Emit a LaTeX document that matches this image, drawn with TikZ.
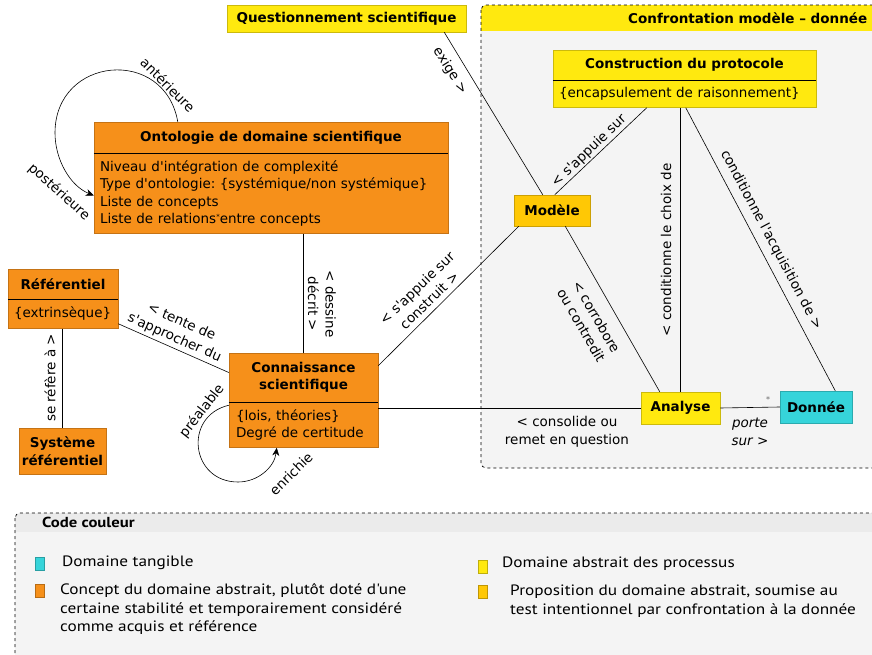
\documentclass[tikz,border=0pt]{standalone}
\usepackage{fontspec}
\setmainfont{DejaVu Sans}[Ligatures=TeXOff]
\newfontfamily\legendfont{PT Sans}[FakeStretch=1.15, Ligatures=TeXOff]
\usetikzlibrary{positioning,arrows.meta}

\definecolor{concept}{HTML}{F6901A}
\definecolor{process}{HTML}{FFE90F}
\definecolor{proposal}{HTML}{FFC805}
\definecolor{tangible}{HTML}{36D4DA}
\definecolor{groupbg}{HTML}{F4F4F4}
\definecolor{legendhead}{HTML}{EBEBEB}

\frenchspacing
\begin{document}
\begin{tikzpicture}[
  x=1pt, y=-1pt,
  font=\fontsize{13.5}{17.5}\selectfont,
  title/.style={rectangle, draw=#1!80!black, fill=#1, line width=0.5pt, inner sep=0pt, align=center, font=\fontsize{13.5}{17.5}\selectfont\bfseries},
  sepline/.style={line width=0.8pt},
  link/.style={line width=0.6pt},
  loopy/.style={line width=0.6pt, -{Stealth[length=8pt, width=7pt, inset=2.5pt]}},
  lbl/.style={inner sep=1pt, align=center},
  groupedge/.style={dashed, line width=0.7pt, rounded corners=5pt},
  legsq/.style={rectangle, draw=#1!75!black, fill=#1, line width=0.4pt, minimum width=9pt, minimum height=13pt, inner sep=0pt},
  legtxt/.style={anchor=west, align=left, inner sep=0pt, font=\legendfont\fontsize{15}{18.5}\selectfont}
]
  \useasboundingbox (0,0) rectangle (872,655);
  \clip (0,0) rectangle (872,655);

  % groupe confrontation
  \begin{scope}
    \clip[rounded corners=5pt] (481,5) rectangle (895,468);
    \fill[groupbg] (481,5) rectangle (895,468);
    \fill[process] (481,5) rectangle (895,31);
  \end{scope}
  \draw[groupedge] (481,5) rectangle (895,468);
  \node[anchor=west, inner sep=0pt, font=\fontsize{13.5}{17.5}\selectfont\bfseries] (conf-title) at (628,18) {Confrontation modèle – donnée};

  % legende
  \begin{scope}
    \clip[rounded corners=5pt] (15,513) rectangle (895,690);
    \fill[groupbg] (15,513) rectangle (895,690);
    \fill[legendhead] (15,513) rectangle (895,532);
  \end{scope}
  \draw[groupedge] (15,513) rectangle (895,690);
  \node[legtxt, font=\legendfont\fontsize{14.5}{17}\selectfont\bfseries] (leg-title) at (42,522) {Code couleur};

  % classes
  \node[title=process, minimum width=239pt, minimum height=27pt] (quest) at (346.5,18.5) {Questionnement scientifique};

  \node[title=process, minimum width=263pt, minimum height=30pt] (proto-h) at (684.5,65) {Construction du protocole};
  \node[rectangle, draw=process!80!black, fill=process, line width=0.5pt, inner xsep=6pt, inner ysep=0pt, minimum height=27pt, text width=251pt, align=left, below=0pt of proto-h] (proto-b) {\{encapsulement de raisonnement\}};

  \node[title=proposal, minimum width=76pt, minimum height=31pt] (modele) at (552,210.5) {Modèle};

  \node[title=concept, minimum width=354pt, minimum height=31pt] (onto-h) at (271,137.5) {Ontologie de domaine scientifique};
  \node[rectangle, draw=concept!80!black, fill=concept, line width=0.5pt, inner xsep=6pt, inner ysep=0pt, minimum height=80pt, text width=342pt, align=left, below=0pt of onto-h] (onto-b) {Niveau d'intégration de complexité\\Type d'ontologie: \{systémique/non systémique\}\\Liste de concepts\\Liste de relations{\raisebox{4pt}{\fontsize{7}{7}\selectfont *}}entre concepts};

  \node[title=concept, minimum width=110pt, minimum height=30pt] (ref-h) at (63,284) {Référentiel};
  \node[rectangle, draw=concept!80!black, fill=concept, line width=0.5pt, inner xsep=6pt, inner ysep=0pt, minimum height=29pt, text width=98pt, align=left, below=0pt of ref-h] (ref-b) {\{extrinsèque\}};

  \node[title=concept, minimum width=87pt, minimum height=46pt] (sys) at (62.5,451) {Système\\référentiel};

  \node[title=concept, minimum width=149pt, minimum height=49pt] (cons-h) at (303.5,377.5) {Connaissance\\scientifique};
  \node[rectangle, draw=concept!80!black, fill=concept, line width=0.5pt, inner xsep=7pt, inner ysep=0pt, minimum height=45pt, text width=135pt, align=left, below=0pt of cons-h] (cons-b) {\{lois, théories\}\\Degré de certitude};

  \node[title=process, minimum width=79pt, minimum height=32pt] (analyse) at (680.5,408) {Analyse};
  \node[title=tangible, minimum width=72pt, minimum height=32pt] (donnee) at (816,407) {Donnée};

  % separateurs
  \draw[sepline] (proto-b.north west) -- (proto-b.north east);
  \draw[sepline] (onto-b.north west) -- (onto-b.north east);
  \draw[sepline] (ref-b.north west) -- (ref-b.north east);
  \draw[sepline] (cons-b.north west) -- (cons-b.north east);

  % associations
  \draw[link] ([xshift=-22pt]quest.south east) -- ([xshift=29pt]modele.north west);
  \draw[link] ([xshift=94pt]proto-b.south west) -- ([xshift=41pt]modele.north west);
  \draw[link] (analyse.north |- proto-b.south) -- (analyse.north);
  \draw[link] ([xshift=133pt]proto-b.south west) -- ([xshift=-17pt]donnee.north east);
  \draw[link] ([xshift=-25pt]modele.south east) -- ([xshift=19pt]analyse.north west);
  \draw[link] (analyse.west) -- (analyse.west -| cons-b.east);
  \draw[link] (analyse.east) -- (donnee.west);
  \draw[link] (onto-b.south -| cons-h.north) -- (cons-h.north);
  \draw[link] ([yshift=-13pt]cons-h.north east) -- ([xshift=5pt]modele.south west);
  \draw[link] ([yshift=5pt]ref-b.south east) -- ([yshift=5pt]cons-h.west);
  \draw[link] (ref-b.south -| sys.north) -- (sys.north);

  % associations reflexives
  \draw[loopy] ([xshift=84pt]onto-h.north west) .. controls (164.6,46.2) and (55,56) .. (55,133)
    .. controls (55,159) and (69.7,185.7) .. ([yshift=-2pt]onto-b.west);
  \draw[loopy] ([yshift=-3pt]cons-b.north west) .. controls (182.9,416.2) and (190.6,482) .. (238,482)
    .. controls (258.2,482) and (274.4,467) .. ([xshift=48pt]cons-b.south west);

  % libelles
  \node[lbl, rotate=-58] (l-exige) at (450,71) {exige >};
  \node[lbl, rotate=44] (l-appui1) at (589,151) {< s'appuie sur};
  \node[lbl, rotate=90] (l-choix) at (666,250) {< conditionne le choix de};
  \node[lbl, rotate=-62] (l-acq) at (771,240) {conditionne l'acquisition de >};
  \node[lbl, rotate=-60] (l-corr) at (589,321) {< corrobore\\ou contredit};
  \node[lbl] (l-consol) at (567,432) {< consolide ou\\remet en question};
  \node[lbl, font=\fontsize{13.5}{17.5}\selectfont\itshape] (l-porte) at (750,432) {porte\\sur >};
  \node[lbl, text=black!60, font=\fontsize{8}{8}\selectfont] (l-mult) at (768,400) {*};
  \node[lbl, rotate=-90] (l-dessine) at (322,304) {< dessine\\décrit >};
  \node[lbl, rotate=44] (l-appui2) at (423,294) {< s'appuie sur\\construit >};
  \node[lbl, rotate=-24] (l-tente) at (178,330) {< tente de\\s'approcher du};
  \node[lbl, rotate=90] (l-refere) at (50,378) {se réfère à >};
  \node[lbl, rotate=-45] (l-ante) at (168,85) {antérieure};
  \node[lbl, rotate=-42] (l-post) at (59,192) {postérieure};
  \node[lbl, rotate=52] (l-prea) at (202,411) {préalable};
  \node[lbl, rotate=45] (l-enri) at (291,474) {enrichie};

  % code couleur
  \node[legsq=tangible] (sq-tang) at (40,564) {};
  \node[legtxt] (t-tang) at (62,563) {Domaine tangible};
  \node[legsq=concept] (sq-conc) at (40,591) {};
  \node[legtxt] (t-conc) at (60,609.5) {Concept du domaine abstrait, plutôt doté d'une\\certaine stabilité et temporairement considéré\\comme acquis et référence};
  \node[legsq=process] (sq-proc) at (482.5,566.5) {};
  \node[legtxt] (t-proc) at (502,564) {Domaine abstrait des processus};
  \node[legsq=proposal] (sq-prop) at (482.5,592) {};
  \node[legtxt] (t-prop) at (510,601) {Proposition du domaine abstrait, soumise au\\test intentionnel par confrontation à la donnée};
\end{tikzpicture}
\end{document}
